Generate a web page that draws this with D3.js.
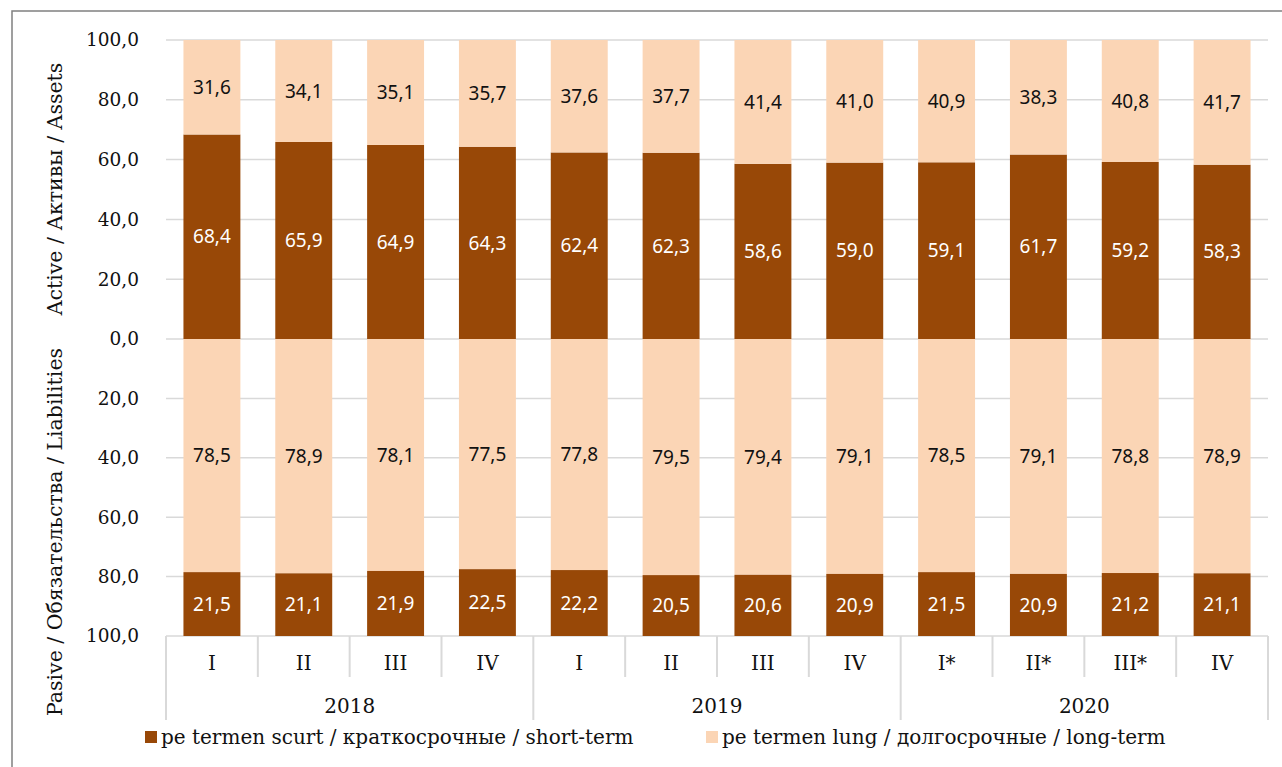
<!DOCTYPE html>
<head>
  <meta charset="utf-8" />
  <script src="https://d3js.org/d3.v7.min.js"></script>
  <style>
    body { margin: 0; background: #fff; }
    svg { display: block; }
    text { font-family: "DejaVu Serif", serif; fill: #111; }
    .val { font-family: "Noto Sans", sans-serif; font-size: 19px; }
  </style>
</head>
<body>
  <svg width="1282" height="767"></svg>
  <script>
    // data
    var quarters = ["I", "II", "III", "IV", "I", "II", "III", "IV", "I*", "II*", "III*", "IV"];
    var years = ["2018", "2019", "2020"];
    var assetsShort = [68.4, 65.9, 64.9, 64.3, 62.4, 62.3, 58.6, 59.0, 59.1, 61.7, 59.2, 58.3];
    var assetsLong = [31.6, 34.1, 35.1, 35.7, 37.6, 37.7, 41.4, 41.0, 40.9, 38.3, 40.8, 41.7];
    var liabShort = [21.5, 21.1, 21.9, 22.5, 22.2, 20.5, 20.6, 20.9, 21.5, 20.9, 21.2, 21.1];
    var liabLong = [78.5, 78.9, 78.1, 77.5, 77.8, 79.5, 79.4, 79.1, 78.5, 79.1, 78.8, 78.9];
    var topTicks = [0, 20, 40, 60, 80, 100];
    var bottomTicks = [20, 40, 60, 80, 100];
    var legendLabels = ["pe termen scurt / краткосрочные / short-term", "pe termen lung / долгосрочные / long-term"];

    var darkColor = "#984807";
    var lightColor = "#fbd5b5";
    var gridColor = "#d9d9d9";

    var svg = d3.select("svg");
    var fmt = function (v) { return d3.format(".1f")(v).replace(".", ","); };

    // outer frame
    svg.append("rect")
      .attr("x", 12).attr("y", 11)
      .attr("width", 1300).attr("height", 800)
      .attr("fill", "none").attr("stroke", "#808080").attr("stroke-width", 1.5);

    var x = d3.scaleBand()
      .domain(d3.range(quarters.length))
      .range([166, 1268])
      .paddingInner(0.38)
      .paddingOuter(0.19);
    var yTop = d3.scaleLinear().domain([0, 100]).range([339, 40]);
    var yBot = d3.scaleLinear().domain([0, 100]).range([339, 636]);

    // grid lines + tick labels
    var grid = svg.append("g");
    topTicks.forEach(function (t) {
      grid.append("line")
        .attr("x1", 166).attr("x2", 1268)
        .attr("y1", yTop(t)).attr("y2", yTop(t))
        .attr("stroke", gridColor).attr("stroke-width", 1.5);
      grid.append("text")
        .attr("x", 139).attr("y", yTop(t))
        .attr("dy", "0.35em").attr("text-anchor", "end")
        .style("font-size", "18.5px")
        .text(fmt(t));
    });
    bottomTicks.forEach(function (t) {
      grid.append("line")
        .attr("x1", 166).attr("x2", 1268)
        .attr("y1", yBot(t)).attr("y2", yBot(t))
        .attr("stroke", gridColor).attr("stroke-width", 1.5);
      grid.append("text")
        .attr("x", 139).attr("y", yBot(t))
        .attr("dy", "0.35em").attr("text-anchor", "end")
        .style("font-size", "18.5px")
        .text(fmt(t));
    });

    // bars
    var bars = svg.append("g");
    quarters.forEach(function (q, i) {
      var bx = x(i), bw = x.bandwidth(), cx = bx + bw / 2;
      // assets (upwards)
      bars.append("rect")
        .attr("x", bx).attr("width", bw)
        .attr("y", yTop(assetsShort[i])).attr("height", yTop(0) - yTop(assetsShort[i]))
        .attr("fill", darkColor);
      bars.append("rect")
        .attr("x", bx).attr("width", bw)
        .attr("y", yTop(assetsShort[i] + assetsLong[i])).attr("height", yTop(assetsShort[i]) - yTop(assetsShort[i] + assetsLong[i]))
        .attr("fill", lightColor);
      // liabilities (downwards)
      bars.append("rect")
        .attr("x", bx).attr("width", bw)
        .attr("y", yBot(0)).attr("height", yBot(liabLong[i]) - yBot(0))
        .attr("fill", lightColor);
      bars.append("rect")
        .attr("x", bx).attr("width", bw)
        .attr("y", yBot(liabLong[i])).attr("height", yBot(liabLong[i] + liabShort[i]) - yBot(liabLong[i]))
        .attr("fill", darkColor);

      bars.append("text").attr("class", "val")
        .attr("x", cx).attr("y", (yTop(0) + yTop(assetsShort[i])) / 2)
        .attr("dy", "0.35em").attr("text-anchor", "middle")
        .style("fill", "#fff").text(fmt(assetsShort[i]));
      bars.append("text").attr("class", "val")
        .attr("x", cx).attr("y", (yTop(assetsShort[i]) + yTop(assetsShort[i] + assetsLong[i])) / 2)
        .attr("dy", "0.35em").attr("text-anchor", "middle")
        .text(fmt(assetsLong[i]));
      bars.append("text").attr("class", "val")
        .attr("x", cx).attr("y", (yBot(0) + yBot(liabLong[i])) / 2)
        .attr("dy", "0.35em").attr("text-anchor", "middle")
        .text(fmt(liabLong[i]));
      bars.append("text").attr("class", "val")
        .attr("x", cx).attr("y", (yBot(liabLong[i]) + yBot(liabLong[i] + liabShort[i])) / 2)
        .attr("dy", "0.35em").attr("text-anchor", "middle")
        .style("fill", "#fff").text(fmt(liabShort[i]));
    });

    // category axis (quarters + years)
    var cat = svg.append("g");
    var step = x.step();
    d3.range(quarters.length + 1).forEach(function (i) {
      var lx = 166 + i * step;
      var isYear = i % 4 === 0;
      cat.append("line")
        .attr("x1", lx).attr("x2", lx)
        .attr("y1", 636).attr("y2", isYear ? 720 : 677)
        .attr("stroke", gridColor).attr("stroke-width", 2);
    });
    quarters.forEach(function (q, i) {
      cat.append("text")
        .attr("x", x(i) + x.bandwidth() / 2).attr("y", 663)
        .attr("dy", "0.35em").attr("text-anchor", "middle")
        .style("font-size", "20px").text(q);
    });
    years.forEach(function (yr, j) {
      cat.append("text")
        .attr("x", 166 + (j * 4 + 2) * step).attr("y", 706)
        .attr("dy", "0.35em").attr("text-anchor", "middle")
        .style("font-size", "20px").text(yr);
    });

    // axis titles
    svg.append("text")
      .attr("transform", "translate(55,189) rotate(-90)")
      .attr("dy", "0.35em").attr("text-anchor", "middle")
      .style("font-size", "20.5px")
      .text("Active / Активы / Assets");
    svg.append("text")
      .attr("transform", "translate(55,532) rotate(-90)")
      .attr("dy", "0.35em").attr("text-anchor", "middle")
      .style("font-size", "20.5px")
      .text("Pasive / Обязательства / Liabilities");

    // legend
    var legend = svg.append("g");
    var legX = [145, 706];
    [darkColor, lightColor].forEach(function (c, i) {
      legend.append("rect")
        .attr("x", legX[i]).attr("y", 731)
        .attr("width", 12).attr("height", 12)
        .attr("fill", c);
      legend.append("text")
        .attr("x", legX[i] + 16).attr("y", 737)
        .attr("dy", "0.35em")
        .style("font-size", "20px")
        .text(legendLabels[i]);
    });
  </script>
</body>
